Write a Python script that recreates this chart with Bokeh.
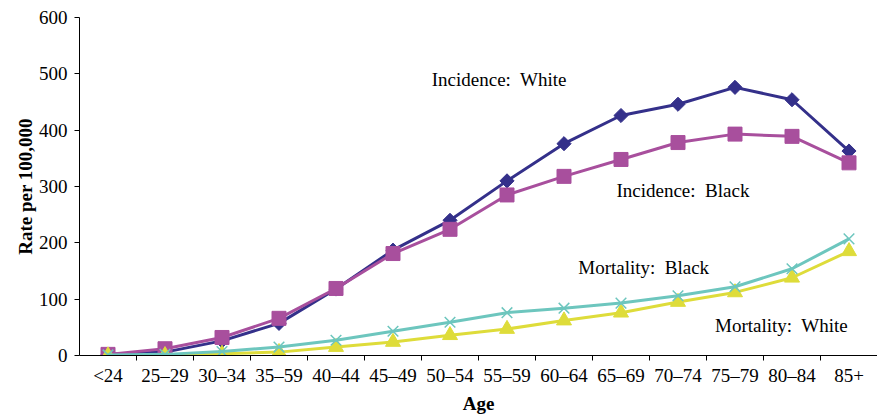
import math
from bokeh.plotting import figure
from bokeh.models import FixedTicker, Range1d, Label, ColumnDataSource
from bokeh.embed import file_html
from bokeh.resources import INLINE

age_groups = ["<24", "25–29", "30–34", "35–59", "40–44", "45–49", "50–54",
              "55–59", "60–64", "65–69", "70–74", "75–79", "80–84", "85+"]
incidence_white = [2, 6, 26, 57, 118, 187, 240, 310, 376, 426, 446, 476, 454, 363]
incidence_black = [2, 12, 32, 66, 119, 181, 224, 285, 318, 348, 378, 393, 389, 342]
mortality_black = [1, 2, 7, 15, 27, 43, 59, 76, 84, 93, 106, 122, 154, 207]
mortality_white = [0, 0.5, 3, 6, 15, 24, 36, 47, 62, 76, 95, 112, 138, 185]
y_ticks = [0, 100, 200, 300, 400, 500, 600]

series_labels = ["Incidence:\u00a0 White", "Incidence:\u00a0 Black",
                 "Mortality:\u00a0 Black", "Mortality:\u00a0 White"]

FONT = "Liberation Serif"
FS = "19px"
xs = list(range(len(age_groups)))

src = ColumnDataSource(dict(x=xs, iw=incidence_white, ib=incidence_black,
                            mb=mortality_black, mw=mortality_white))

p = figure(frame_width=798, frame_height=338, output_backend="svg", toolbar_location=None,
           x_range=Range1d(-0.5, len(age_groups) - 0.5), y_range=Range1d(0, 600),
           min_border_left=79, min_border_right=0, min_border_top=17, min_border_bottom=60)
p.outline_line_color = None
p.xgrid.visible = False
p.ygrid.visible = False
p.background_fill_color = "white"
p.border_fill_color = "white"

c_iw = "#34308A"
c_ib = "#A84F9D"
c_mb = "#6DC6BE"
c_mw = "#DEDC3A"

p.line("x", "iw", source=src, line_color=c_iw, line_width=3)
p.scatter("x", "iw", source=src, marker="square", angle=math.pi / 4, size=10,
          fill_color=c_iw, line_color=c_iw)
p.line("x", "ib", source=src, line_color=c_ib, line_width=3)
p.scatter("x", "ib", source=src, marker="square", size=14,
          fill_color=c_ib, line_color=c_ib)
p.line("x", "mw", source=src, line_color=c_mw, line_width=3)
p.scatter("x", "mw", source=src, marker="triangle", size=15,
          fill_color=c_mw, line_color=c_mw)
p.line("x", "mb", source=src, line_color=c_mb, line_width=3)
p.scatter("x", "mb", source=src, marker="x", size=15,
          line_color=c_mb, line_width=1.5)

# Axes
xa = p.xaxis[0]
xa.ticker = FixedTicker(ticks=xs, minor_ticks=[i + 0.5 for i in xs[:-1]])
xa.major_label_overrides = {i: lab for i, lab in enumerate(age_groups)}
xa.major_tick_line_color = None
xa.major_tick_out = 0
xa.major_tick_in = 0
xa.minor_tick_line_color = "black"
xa.minor_tick_out = 5
xa.minor_tick_in = 0
xa.axis_line_color = "black"
xa.major_label_standoff = 4
xa.major_label_text_font = FONT
xa.major_label_text_font_size = FS
xa.major_label_text_color = "black"
xa.axis_label = "Age"
xa.axis_label_text_font = FONT
xa.axis_label_text_font_size = FS
xa.axis_label_text_font_style = "bold"
xa.axis_label_text_color = "black"
xa.axis_label_standoff = 4

ya = p.yaxis[0]
ya.ticker = FixedTicker(ticks=y_ticks)
ya.minor_tick_line_color = None
ya.major_tick_out = 5
ya.major_tick_in = 0
ya.major_tick_line_color = "black"
ya.axis_line_color = "black"
ya.major_label_standoff = 7
ya.major_label_text_font = FONT
ya.major_label_text_font_size = FS
ya.major_label_text_color = "black"
ya.axis_label = "Rate per 100,000"
ya.axis_label_text_font = FONT
ya.axis_label_text_font_size = FS
ya.axis_label_text_font_style = "bold"
ya.axis_label_text_color = "black"
ya.axis_label_standoff = 0

label_pos = [(5.68, 490), (8.92, 293), (8.25, 156), (10.65, 53)]
for txt, (lx, ly) in zip(series_labels, label_pos):
    p.add_layout(Label(x=lx, y=ly, text=txt, text_font=FONT, text_font_size=FS,
                       text_color="black", text_baseline="middle", text_align="left"))

open("out.html", "w").write(file_html(p, INLINE))
